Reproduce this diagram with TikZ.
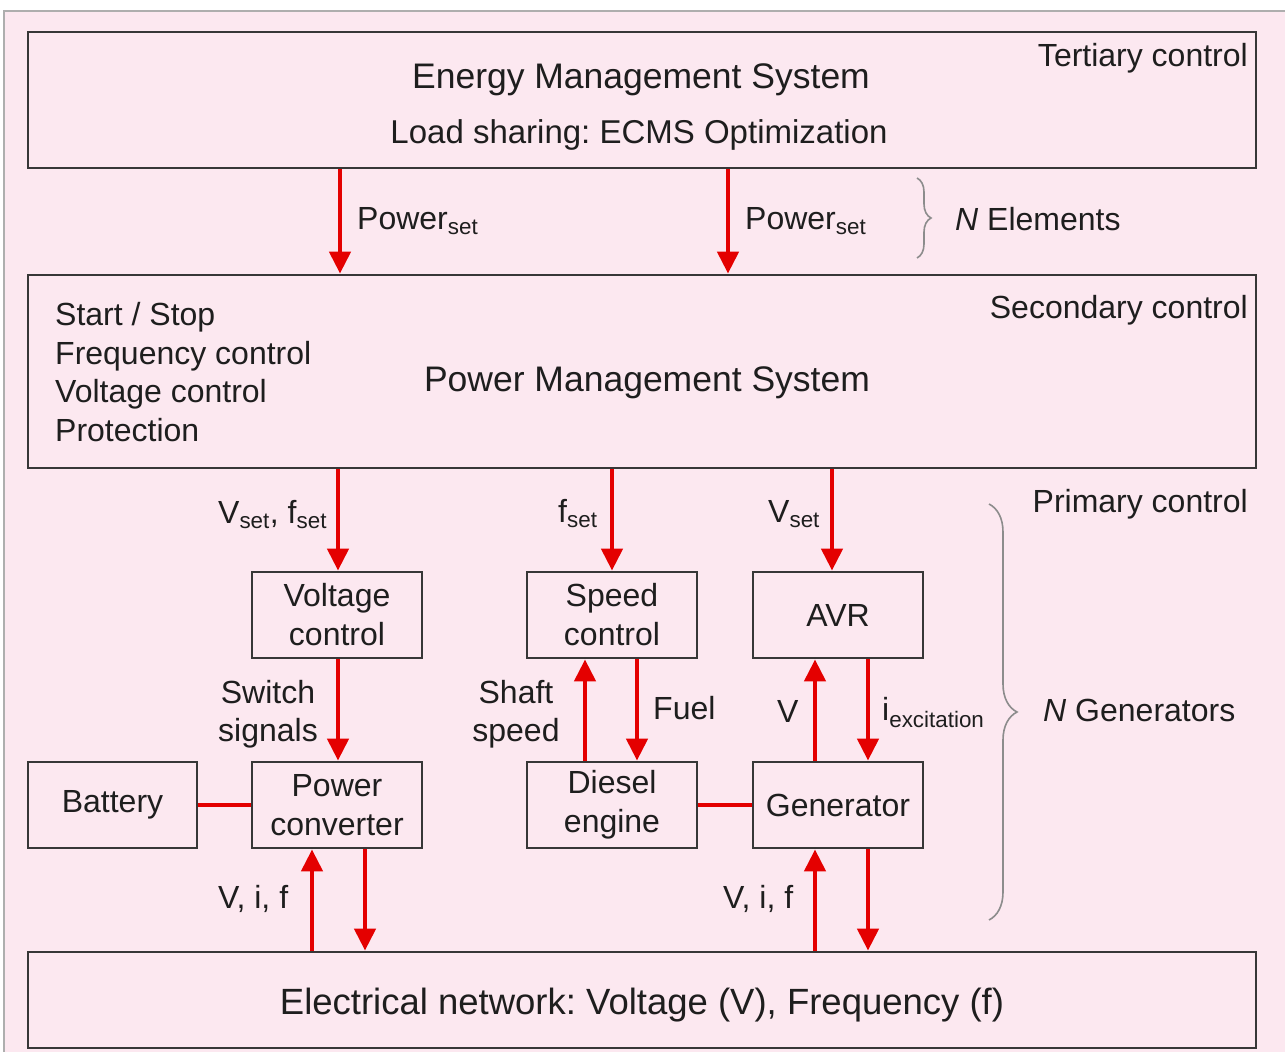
\documentclass[tikz,border=0pt]{standalone}
\usepackage{fontspec}
\setmainfont{Liberation Sans}
\usetikzlibrary{arrows.meta,decorations.pathreplacing}
\definecolor{bgpink}{RGB}{252,232,240}
\definecolor{arrred}{RGB}{228,0,0}
\definecolor{boxline}{RGB}{55,55,55}
\definecolor{txt}{RGB}{30,30,30}
\definecolor{brgray}{RGB}{140,140,140}
\frenchspacing
\tikzset{
  box/.style={draw=boxline, line width=2.8pt, inner sep=0pt, minimum width=170pt, minimum height=86pt,
    font=\fontsize{32}{39}\selectfont, text=txt, align=center},
  bigbox/.style={draw=boxline, line width=2.8pt, inner sep=0pt, minimum width=1228pt},
  lbl/.style={inner sep=0pt, text=txt, font=\fontsize{32}{37}\selectfont},
  sig/.style={draw=arrred, line width=4.5pt, -{Triangle[length=22pt,width=21pt]}},
  link/.style={draw=arrred, line width=4.5pt},
  brc/.style={draw=brgray, line width=1.6pt, decorate, decoration={brace, amplitude=#1}}
}
\begin{document}
\begin{tikzpicture}[x=1pt,y=-1pt]
\useasboundingbox (0,0) rectangle (1285,1052);
\fill[white] (0,0) rectangle (1285,1052);
\fill[bgpink] (4,11) rectangle (1285,1052);
\draw[brgray!70, line width=1.5pt] (4,1052) -- (4,11) -- (1285,11);

% big boxes
\node[bigbox, minimum height=136pt] (ems) at (642,100) {};
\node[bigbox, minimum height=193pt] (pms) at (642,371.5) {};
\node[bigbox, minimum height=96pt] (net) at (642,1000) {};

% EMS texts
\node[lbl, anchor=base, font=\fontsize{35.5}{40}\selectfont] (emst) at (641,88) {Energy Management System};
\node[lbl, anchor=base, font=\fontsize{33}{38}\selectfont] (emsl) at (639,143) {Load sharing: ECMS Optimization};
\node[lbl, anchor=base east] (ter) at (1248,66) {Tertiary control};

% PMS texts
\node[lbl, anchor=base east] (sec) at (1248,318) {Secondary control};
\node[lbl, anchor=base west] (l1) at (55,325) {Start / Stop};
\node[lbl, anchor=base west] (l2) at (55,364) {Frequency control};
\node[lbl, anchor=base west] (l3) at (55,402) {Voltage control};
\node[lbl, anchor=base west] (l4) at (55,441) {Protection};
\node[lbl, anchor=base, font=\fontsize{35.5}{40}\selectfont] (pmst) at (647,391) {Power Management System};
\node[lbl, anchor=base east] (pri) at (1248,512) {Primary control};

% network text
\node[lbl, anchor=base, font=\fontsize{36.5}{40}\selectfont] (nett) at (642,1014) {Electrical network: Voltage (V), Frequency (f)};

% small boxes
\node[box] (vc) at (337,615) {Voltage\\control};
\node[box] (sc) at (612,615) {Speed\\control};
\node[box] (avr) at (838,615) {AVR};
\node[box, minimum width=169pt] (bat) at (112.5,805) {Battery};
\node[box] (pc) at (337,805) {Power\\converter};
\node[box] (de) at (612,805) {Diesel\\engine};
\node[box] (gen) at (838,805) {Generator};

% arrows EMS -> PMS
\draw[sig] (340,0 |- ems.south) -- (340,0 |- pms.north);
\draw[sig] (728,0 |- ems.south) -- (728,0 |- pms.north);
\node[lbl, anchor=base west] (ps1) at (357,229) {Power\textsubscript{set}};
\node[lbl, anchor=base west] (ps2) at (745,229) {Power\textsubscript{set}};
\draw[brc=14pt] (917,178) -- (917,258);
\node[lbl, anchor=base west] (nel) at (955,230) {\textit{N} Elements};

% arrows PMS -> controllers
\draw[sig] (338,0 |- pms.south) -- (338,0 |- vc.north);
\draw[sig] (612,0 |- pms.south) -- (612,0 |- sc.north);
\draw[sig] (832,0 |- pms.south) -- (832,0 |- avr.north);
\node[lbl, anchor=base west] (vfs) at (218,523) {V\textsubscript{set}, f\textsubscript{set}};
\node[lbl, anchor=base west] (fs) at (558,522) {f\textsubscript{set}};
\node[lbl, anchor=base west] (vs) at (768,522) {V\textsubscript{set}};

% controller <-> device arrows
\draw[sig] (338,0 |- vc.south) -- (338,0 |- pc.north);
\node[lbl, anchor=base, align=center] (sw1) at (268,703) {Switch};
\node[lbl, anchor=base, align=center] (sw2) at (268,741) {signals};
\draw[sig] (585,0 |- de.north) -- (585,0 |- sc.south);
\draw[sig] (637,0 |- sc.south) -- (637,0 |- de.north);
\node[lbl, anchor=base] (sh1) at (516,703) {Shaft};
\node[lbl, anchor=base] (sh2) at (516,741) {speed};
\node[lbl, anchor=base west] (fuel) at (653,719) {Fuel};
\draw[sig] (815,0 |- gen.north) -- (815,0 |- avr.south);
\draw[sig] (868,0 |- avr.south) -- (868,0 |- gen.north);
\node[lbl, anchor=base west] (vv) at (777,722) {V};
\node[lbl, anchor=base west] (iex) at (882,720) {i\textsubscript{excitation}};

% links
\draw[link] (bat.east) -- (pc.west);
\draw[link] (de.east) -- (gen.west);

% network arrows
\draw[sig] (312,0 |- net.north) -- (312,0 |- pc.south);
\draw[sig] (365,0 |- pc.south) -- (365,0 |- net.north);
\draw[sig] (815,0 |- net.north) -- (815,0 |- gen.south);
\draw[sig] (868,0 |- gen.south) -- (868,0 |- net.north);
\node[lbl, anchor=base west] (vif1) at (218,908) {V, i, f};
\node[lbl, anchor=base west] (vif2) at (723,908) {V, i, f};

% generators brace
\draw[brc=28pt] (989,504) -- (989,920);
\node[lbl, anchor=base west] (ngen) at (1043,721) {\textit{N} Generators};
\end{tikzpicture}
\end{document}
